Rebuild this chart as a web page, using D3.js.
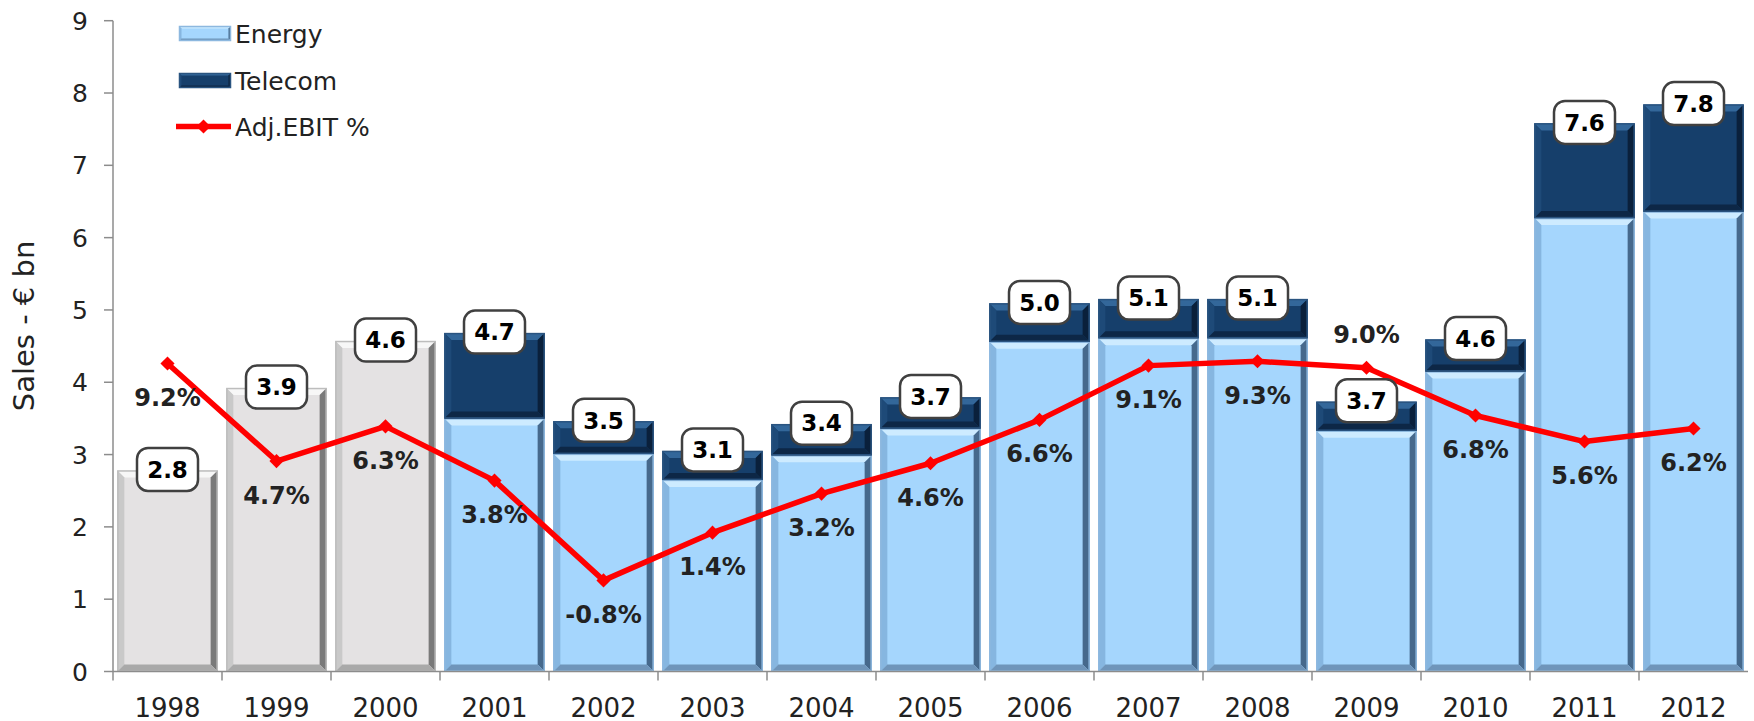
<!DOCTYPE html>
<html>
<head>
<meta charset="utf-8">
<script src="https://cdn.jsdelivr.net/npm/d3@7"></script>
<style>
  body { margin: 0; background: #fff; }
  svg { display: block; font-family: "DejaVu Sans", Verdana, sans-serif; }
</style>
</head>
<body>
<div id="chart"></div>
<script>
"use strict";

// Data
const years = ["1998", "1999", "2000", "2001", "2002", "2003", "2004", "2005",
    "2006", "2007", "2008", "2009", "2010", "2011", "2012"];
const energy = [2.78, 3.92, 4.57, 3.50, 3.01, 2.65, 2.99, 3.36, 4.56, 4.61, 4.61, 3.33, 4.15, 6.27, 6.36];
const telecom = [0, 0, 0, 1.18, 0.45, 0.40, 0.43, 0.43, 0.53, 0.54, 0.54, 0.40, 0.44, 1.31, 1.48];
const totalLabels = ["2.8", "3.9", "4.6", "4.7", "3.5", "3.1", "3.4", "3.7", "5.0", "5.1", "5.1", "3.7", "4.6", "7.6", "7.8"];
const ebit = [9.2, 4.7, 6.3, 3.8, -0.8, 1.4, 3.2, 4.6, 6.6, 9.1, 9.3, 9.0, 6.8, 5.6, 6.2];
const historicYears = ["1998", "1999", "2000"];   // drawn grey, no split
const labelAboveYears = ["2009"];
const yTicks = [0, 1, 2, 3, 4, 5, 6, 7, 8, 9];

const width = 1754, height = 721;
const margin = { top: 20.7, right: 6, bottom: 49.5, left: 113 };

const svg = d3.select("#chart").append("svg")
    .attr("width", width)
    .attr("height", height);

const x = d3.scaleBand()
    .domain(years)
    .range([margin.left, width - margin.right])
    .paddingInner(0.08)
    .paddingOuter(0.04);

const y = d3.scaleLinear()
    .domain([0, 9])
    .range([height - margin.bottom, margin.top]);

// hidden secondary axis for the EBIT margin
const yPct = d3.scaleLinear()
    .domain([-5, 25])
    .range([height - margin.bottom, margin.top]);

const styles = {
    grey:    { fill: "#e4e2e3", top: "#f7f7f7", left: "#c9c9c9", right: "#7a7a7a", bottom: "#a9a9a9", edge: "#bdbdbd" },
    energy:  { fill: "#a5d6fd", top: "#cdebff", left: "#86b6e0", right: "#46698c", bottom: "#6f95ba", edge: "#8db8df" },
    telecom: { fill: "#163f6b", top: "#33679a", left: "#1e4a78", right: "#0a203b", bottom: "#0d2746", edge: "#2a5480" }
};

// Draw a rectangle with a bevelled edge, like the Excel bars
function BevelRect(g, x0, y0, w, h, s, b) {
    b = Math.min(b, h / 3, w / 3);
    const x1 = x0 + w, y1 = y0 + h;
    const poly = pts => "M" + pts.map(p => p.join(",")).join("L") + "Z";
    g.append("rect").attr("x", x0).attr("y", y0).attr("width", w).attr("height", h)
        .attr("fill", s.fill);
    g.append("path").attr("d", poly([[x0, y0], [x1, y0], [x1 - b, y0 + b], [x0 + b, y0 + b]])).attr("fill", s.top);
    g.append("path").attr("d", poly([[x0, y0], [x0 + b, y0 + b], [x0 + b, y1 - b], [x0, y1]])).attr("fill", s.left);
    g.append("path").attr("d", poly([[x1, y0], [x1, y1], [x1 - b, y1 - b], [x1 - b, y0 + b]])).attr("fill", s.right);
    g.append("path").attr("d", poly([[x0, y1], [x0 + b, y1 - b], [x1 - b, y1 - b], [x1, y1]])).attr("fill", s.bottom);
    g.append("rect").attr("x", x0 + 0.5).attr("y", y0 + 0.5).attr("width", w - 1).attr("height", h - 1)
        .attr("fill", "none").attr("stroke", s.edge).attr("stroke-width", 1.5);
}

// Bars
const bars = svg.append("g");
years.forEach((yr, i) => {
    const g = bars.append("g");
    const bx = x(yr), bw = x.bandwidth();
    if (historicYears.includes(yr)) {
        BevelRect(g, bx, y(energy[i]), bw, y(0) - y(energy[i]), styles.grey, 7);
    } else {
        BevelRect(g, bx, y(energy[i]), bw, y(0) - y(energy[i]), styles.energy, 7);
        const top = energy[i] + telecom[i];
        BevelRect(g, bx, y(top), bw, y(energy[i]) - y(top), styles.telecom, 7);
    }
});

// Y axis
const yAxis = svg.append("g").attr("stroke", "#8c8c8c").attr("stroke-width", 1.5);
yAxis.append("line")
    .attr("x1", margin.left).attr("x2", margin.left)
    .attr("y1", y(9)).attr("y2", y(0));
yAxis.selectAll(".tick").data(yTicks).join("line")
    .attr("x1", margin.left - 9).attr("x2", margin.left)
    .attr("y1", d => y(d)).attr("y2", d => y(d));

svg.append("g")
    .attr("font-size", 25)
    .attr("fill", "#222")
    .attr("text-anchor", "end")
    .selectAll("text").data(yTicks).join("text")
    .attr("x", margin.left - 25)
    .attr("y", d => y(d))
    .attr("dy", "0.36em")
    .text(d => d);

svg.append("text")
    .attr("transform", `translate(34,326) rotate(-90)`)
    .attr("text-anchor", "middle")
    .attr("font-size", 29)
    .attr("fill", "#222")
    .text("Sales - € bn");

// X axis with ticks between categories
const xAxis = svg.append("g").attr("stroke", "#8c8c8c").attr("stroke-width", 1.5);
xAxis.append("line")
    .attr("x1", margin.left).attr("x2", width - margin.right)
    .attr("y1", y(0)).attr("y2", y(0));
xAxis.selectAll(".tick").data(years).join("line")
    .attr("x1", d => x(d) - x.step() * x.paddingInner() / 2)
    .attr("x2", d => x(d) - x.step() * x.paddingInner() / 2)
    .attr("y1", y(0)).attr("y2", y(0) + 9);

svg.append("g")
    .attr("font-size", 26)
    .attr("fill", "#222")
    .attr("text-anchor", "middle")
    .selectAll("text").data(years).join("text")
    .attr("x", d => x(d) + x.bandwidth() / 2)
    .attr("y", y(0) + 45)
    .text(d => d);

// EBIT line
const ebitData = years.map((yr, i) => ({ year: yr, value: ebit[i] }));
const line = d3.line()
    .x(d => x(d.year) + x.bandwidth() / 2)
    .y(d => yPct(d.value));

svg.append("path")
    .datum(ebitData)
    .attr("fill", "none")
    .attr("stroke", "#ff0000")
    .attr("stroke-width", 5.5)
    .attr("stroke-linejoin", "round")
    .attr("d", line);

svg.append("g")
    .attr("fill", "#ff0000")
    .selectAll("path").data(ebitData).join("path")
    .attr("d", d3.symbol(d3.symbolSquare, 100))
    .attr("transform", d => `translate(${x(d.year) + x.bandwidth() / 2},${yPct(d.value)}) rotate(45)`);

// EBIT labels
svg.append("g")
    .attr("font-size", 24)
    .attr("font-weight", "bold")
    .attr("fill", "#222")
    .attr("text-anchor", "middle")
    .selectAll("text").data(ebitData).join("text")
    .attr("x", d => x(d.year) + x.bandwidth() / 2)
    .attr("y", d => yPct(d.value) + (labelAboveYears.includes(d.year) ? -33 : 34))
    .attr("dy", "0.36em")
    .text(d => d.value.toFixed(1) + "%");

// Total labels in rounded boxes
const boxes = svg.append("g")
    .selectAll("g").data(years).join("g")
    .attr("transform", (d, i) => `translate(${x(d) + x.bandwidth() / 2},${y(energy[i] + telecom[i]) - 1})`);
boxes.append("rect")
    .attr("x", -30.5).attr("y", -21.5)
    .attr("width", 61).attr("height", 43)
    .attr("rx", 11)
    .attr("fill", "#fff")
    .attr("stroke", "#404040")
    .attr("stroke-width", 2.5);
boxes.append("text")
    .attr("text-anchor", "middle")
    .attr("dy", "0.36em")
    .attr("font-size", 23)
    .attr("font-weight", "bold")
    .attr("fill", "#000")
    .text((d, i) => totalLabels[i]);

// Legend
const legend = svg.append("g").attr("font-size", 25).attr("fill", "#222");
BevelRect(legend.append("g"), 179, 26, 52, 15, styles.energy, 2.5);
BevelRect(legend.append("g"), 179, 73, 52, 15, styles.telecom, 2.5);
legend.append("line")
    .attr("x1", 176).attr("x2", 231)
    .attr("y1", 126.5).attr("y2", 126.5)
    .attr("stroke", "#ff0000").attr("stroke-width", 5.5);
legend.append("path")
    .attr("d", d3.symbol(d3.symbolSquare, 100))
    .attr("transform", "translate(203.5,126.5) rotate(45)")
    .attr("fill", "#ff0000");
[["Energy", 33.5], ["Telecom", 80.5], ["Adj.EBIT %", 127]].forEach(([t, ly]) => {
    legend.append("text")
        .attr("x", 235).attr("y", ly).attr("dy", "0.36em")
        .text(t);
});
</script>
</body>
</html>
